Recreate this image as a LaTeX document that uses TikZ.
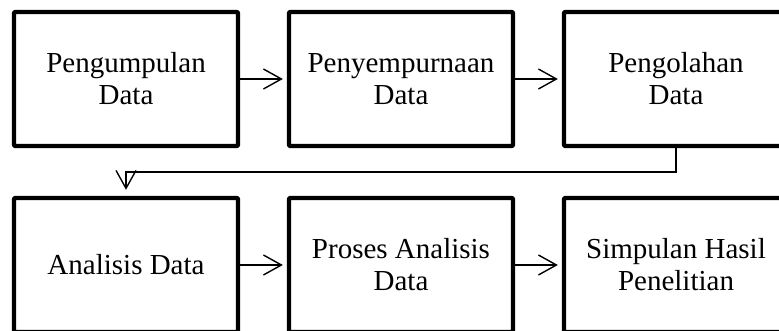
\documentclass[tikz,border=0pt]{standalone}
\usepackage{fontspec}
\setmainfont{Liberation Serif}
\usetikzlibrary{arrows.meta}
\begin{document}
\begin{tikzpicture}[x=1pt,y=1pt,
  stepbox/.style={draw=black, line width=4.3pt, line join=round, rounded corners=1pt,
    minimum width=224pt, minimum height=134pt, inner sep=0pt, align=center,
    font=\fontsize{29}{32}\selectfont},
  flow/.style={draw=black, line width=1.4pt,
    -{Straight Barb[length=18pt,width=20pt,line width=1.4pt]}}]
\useasboundingbox (0,0) rectangle (779,331);
\clip (0,0) rectangle (779,331);
\node[stepbox] (b1) at (126,252) {Pengumpulan\\Data};
\node[stepbox] (b2) at (401,252) {Penyempurnaan\\Data};
\node[stepbox] (b3) at (676,252) {Pengolahan\\Data};
\node[stepbox] (b4) at (126,66) {Analisis Data};
\node[stepbox] (b5) at (401,66) {Proses Analisis\\Data};
\node[stepbox] (b6) at (676,66) {Simpulan Hasil\\Penelitian};
\draw[flow, shorten >=4pt] (b1.east) -- (b2.west);
\draw[flow, shorten >=4pt] (b2.east) -- (b3.west);
\draw[flow, shorten >=4pt] (b4.east) -- (b5.west);
\draw[flow, shorten >=4pt] (b5.east) -- (b6.west);
\draw[flow, shorten >=6pt] (b3.south) -- ++(0,-24) -| (b4.north);
\end{tikzpicture}
\end{document}
